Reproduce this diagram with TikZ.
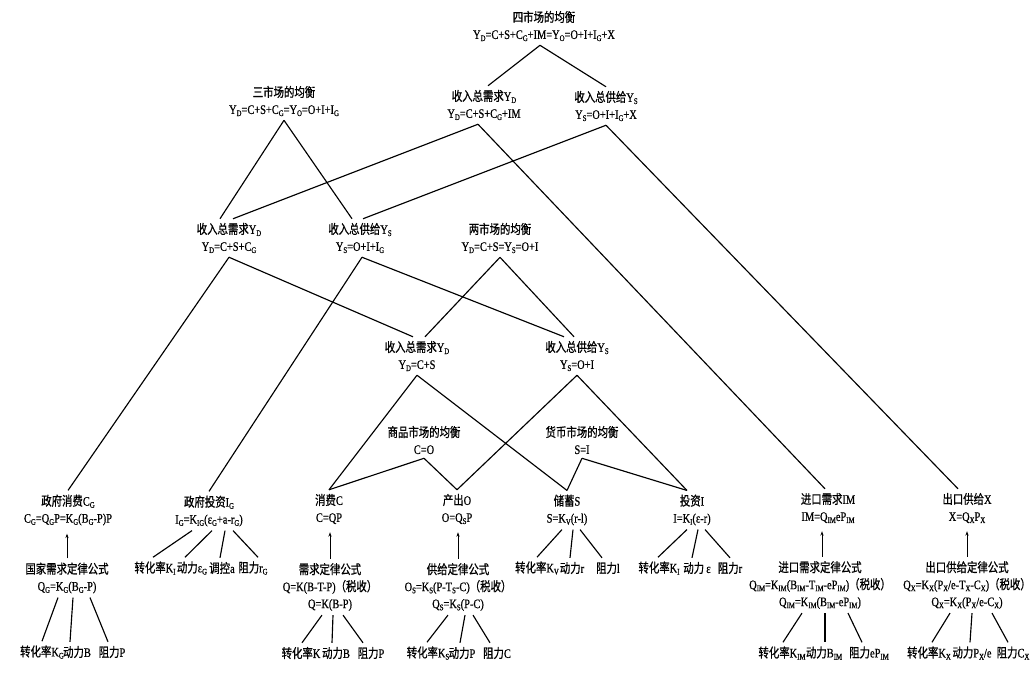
\documentclass[tikz,border=0pt]{standalone}
\usepackage{fontspec}
\setmainfont{Liberation Serif}[FakeStretch=0.8,FakeBold=0.6]
\newfontfamily\cjk{Noto Sans CJK SC}[FakeStretch=0.8,FakeBold=0.8]
\usetikzlibrary{arrows.meta}
\newcommand\sbs[1]{\raisebox{-0.35ex}{\fontsize{8.5}{8.5}\selectfont #1}}
\begin{document}
\begin{tikzpicture}[x=1pt,y=-1pt,
  tx/.style={font=\fontsize{13}{17}\selectfont, align=center, inner xsep=1pt, inner ysep=4pt},
  lf/.style={font=\fontsize{13}{17}\selectfont, inner xsep=1pt, inner ysep=4pt},
  ln/.style={line width=1.15pt},
  up/.style={line width=0.9pt, -{Stealth[length=4.5pt,width=3.2pt]}, shorten >=4pt}]
\fill[white] (0,0) rectangle (1035,675);
\useasboundingbox (0,0) rectangle (1035,675);
% main nodes
\node[tx] (n4) at (544,26) {{\cjk 四市场的均衡}\\Y\sbs{D}=C+S+C\sbs{G}+IM=Y\sbs{O}=O+I+I\sbs{G}+X};
\node[tx] (n3) at (284,101) {{\cjk 三市场的均衡}\\Y\sbs{D}=C+S+C\sbs{G}=Y\sbs{O}=O+I+I\sbs{G}};
\node[tx] (d1) at (484,105) {{\cjk 收入总需求}Y\sbs{D}\\Y\sbs{D}=C+S+C\sbs{G}+IM};
\node[tx] (s1) at (606,106) {{\cjk 收入总供给}Y\sbs{S}\\Y\sbs{S}=O+I+I\sbs{G}+X};
\node[tx] (d2) at (229,238) {{\cjk 收入总需求}Y\sbs{D}\\Y\sbs{D}=C+S+C\sbs{G}};
\node[tx] (s2) at (360,238) {{\cjk 收入总供给}Y\sbs{S}\\Y\sbs{S}=O+I+I\sbs{G}};
\node[tx] (n2) at (500,238) {{\cjk 两市场的均衡}\\Y\sbs{D}=C+S=Y\sbs{S}=O+I};
\node[tx] (d3) at (417,356) {{\cjk 收入总需求}Y\sbs{D}\\Y\sbs{D}=C+S};
\node[tx] (s3) at (577,356) {{\cjk 收入总供给}Y\sbs{S}\\Y\sbs{S}=O+I};
\node[tx] (mg) at (424,440) {{\cjk 商品市场的均衡}\\C=O};
\node[tx] (mm) at (582,440) {{\cjk 货币市场的均衡}\\S=I};
\node[tx] (gc) at (68,510) {{\cjk 政府消费}C\sbs{G}\\C\sbs{G}=Q\sbs{G}P=K\sbs{G}(B\sbs{G}-P)P};
\node[tx] (gi) at (209,511) {{\cjk 政府投资}I\sbs{G}\\I\sbs{G}=K\sbs{IG}(ε\sbs{G}+a-r\sbs{G})};
\node[tx] (cc) at (329,509) {{\cjk 消费}C\\C=QP};
\node[tx] (oo) at (457,509) {{\cjk 产出}O\\O=Q\sbs{S}P};
\node[tx] (ss) at (567,510) {{\cjk 储蓄}S\\S=K\sbs{V}(r-l)};
\node[tx] (ii) at (692,510) {{\cjk 投资}I\\I=K\sbs{I}(ε-r)};
\node[tx] (im) at (828,508) {{\cjk 进口需求}IM\\IM=Q\sbs{IM}eP\sbs{IM}};
\node[tx] (xx) at (967,508) {{\cjk 出口供给}X\\X=Q\sbs{X}P\sbs{X}};
% formula nodes
\node[tx] (gf) at (67,578) {{\cjk 国家需求定律公式}\\Q\sbs{G}=K\sbs{G}(B\sbs{G}-P)};
\node[tx] (cf) at (330,587) {{\cjk 需求定律公式}\\Q=K(B-T-P){\cjk （税收）}\\Q=K(B-P)};
\node[tx] (of) at (458,587) {{\cjk 供给定律公式}\\O\sbs{S}=K\sbs{S}(P-T\sbs{S}-C){\cjk （税收）}\\Q\sbs{S}=K\sbs{S}(P-C)};
\node[tx] (imf) at (820,585) {{\cjk 进口需求定律公式}\\Q\sbs{IM}=K\sbs{IM}(B\sbs{IM}-T\sbs{IM}-eP\sbs{IM}){\cjk （税收）}\\Q\sbs{IM}=K\sbs{IM}(B\sbs{IM}-eP\sbs{IM})};
\node[tx] (xf) at (967,585) {{\cjk 出口供给定律公式}\\Q\sbs{X}=K\sbs{X}(P\sbs{X}/e-T\sbs{X}-C\sbs{X}){\cjk （税收）}\\Q\sbs{X}=K\sbs{X}(P\sbs{X}/e-C\sbs{X})};
% leaves
\node[lf] (g1) at (42,652) {{\cjk 转化率}K\sbs{G}};
\node[lf] (g2) at (77,652) {{\cjk 动力}B};
\node[lf] (g3) at (112,652) {{\cjk 阻力}P};
\node[lf] (i1) at (155,568) {{\cjk 转化率}K\sbs{I}};
\node[lf] (i2) at (192,568) {{\cjk 动力}ε\sbs{G}};
\node[lf] (i3) at (222,568) {{\cjk 调控}a};
\node[lf] (i4) at (253,568) {{\cjk 阻力}r\sbs{G}};
\node[lf] (c1) at (301,653) {{\cjk 转化率}K};
\node[lf] (c2) at (336,653) {{\cjk 动力}B};
\node[lf] (c3) at (371,653) {{\cjk 阻力}P};
\node[lf] (o1) at (428,653) {{\cjk 转化率}K\sbs{S}};
\node[lf] (o2) at (462,653) {{\cjk 动力}P};
\node[lf] (o3) at (497,653) {{\cjk 阻力}C};
\node[lf] (sa) at (537,568) {{\cjk 转化率}K\sbs{V}};
\node[lf] (sb) at (572,568) {{\cjk 动力}r};
\node[lf] (sc) at (608,568) {{\cjk 阻力}l};
\node[lf] (v1) at (659,568) {{\cjk 转化率}K\sbs{I}};
\node[lf] (v2) at (697,568) {{\cjk 动力}\,ε};
\node[lf] (v3) at (730,568) {{\cjk 阻力}r};
\node[lf] (m1) at (782,653) {{\cjk 转化率}K\sbs{IM}};
\node[lf] (m2) at (824,653) {{\cjk 动力}B\sbs{IM}};
\node[lf] (m3) at (869,653) {{\cjk 阻力}eP\sbs{IM}};
\node[lf] (x1) at (929,653) {{\cjk 转化率}K\sbs{X}};
\node[lf] (x2) at (972,653) {{\cjk 动力}P\sbs{X}/e};
\node[lf] (x3) at (1013,653) {{\cjk 阻力}C\sbs{X}};
% tree connectors
\draw[ln] ([xshift=-4pt]n4.south) -- ([xshift=4pt]d1.north);
\draw[ln] ([xshift=-4pt]n4.south) -- (s1.north);
\draw[ln] (n3.south) -- ([xshift=-9pt]d2.north);
\draw[ln] (n3.south) -- ([xshift=-8pt]s2.north);
\draw[ln] ([xshift=-6pt]d1.south) -- ([xshift=4pt]d2.north);
\draw[ln] ([xshift=-6pt]d1.south) -- ([xshift=-3pt]im.north);
\draw[ln] (s1.south) -- ([xshift=3pt]s2.north);
\draw[ln] (s1.south) -- ([xshift=-9pt]xx.north);
\draw[ln] (d2.south) -- (gc.north);
\draw[ln] (d2.south) -- ([xshift=-4pt]d3.north);
\draw[ln] ([xshift=2pt]s2.south) -- (gi.north);
\draw[ln] ([xshift=2pt]s2.south) -- ([xshift=-13pt]s3.north);
\draw[ln] (n2.south) -- ([xshift=8pt]d3.north);
\draw[ln] (n2.south) -- ([xshift=-3pt]s3.north);
\draw[ln] (d3.south) -- (cc.north);
\draw[ln] (d3.south) -- (ss.north);
\draw[ln] (s3.south) -- (oo.north);
\draw[ln] (s3.south) -- ([xshift=-5pt]ii.north);
\draw[ln] (mg.south) -- (cc.north);
\draw[ln] (mg.south) -- (oo.north);
\draw[ln] (mm.south) -- (ss.north);
\draw[ln] (mm.south) -- ([xshift=-5pt]ii.north);
% arrows
\draw[up] (gf.north) -- (gf.north |- gc.south);
\draw[up] (cf.north) -- (cf.north |- cc.south);
\draw[up] (of.north) -- (of.north |- oo.south);
\draw[up] ([xshift=2pt]imf.north) -- ([xshift=2pt]imf.north |- im.south);
\draw[up] (xf.north) -- (xf.north |- xx.south);
% leaf connectors
\draw[ln] ([xshift=-9pt]gf.south) -- (g1.north);
\draw[ln] ([xshift=6pt]gf.south) -- ([xshift=-7pt]g2.north);
\draw[ln] ([xshift=23pt]gf.south) -- ([xshift=-4pt]g3.north);
\draw[ln] ([xshift=-17pt]gi.south) -- ([xshift=-2pt]i1.north);
\draw[ln] ([xshift=3pt]gi.south) -- ([xshift=-7pt]i2.north);
\draw[ln] ([xshift=16pt]gi.south) -- ([xshift=-2pt]i3.north);
\draw[ln] ([xshift=24pt]gi.south) -- ([xshift=5pt]i4.north);
\draw[ln] ([xshift=-8pt]cf.south) -- ([xshift=1pt]c1.north);
\draw[ln] ([xshift=3pt]cf.south) -- ([xshift=-4pt]c2.north);
\draw[ln] ([xshift=13pt]cf.south) -- ([xshift=-8pt]c3.north);
\draw[ln] ([xshift=-10pt]of.south) -- ([xshift=-1pt]o1.north);
\draw[ln] ([xshift=7pt]of.south) -- ([xshift=-2pt]o2.north);
\draw[ln] ([xshift=15pt]of.south) -- ([xshift=-7pt]o3.north);
\draw[ln] ([xshift=-5pt]ss.south) -- (sa.north);
\draw[ln] ([xshift=6pt]ss.south) -- ([xshift=-2pt]sb.north);
\draw[ln] ([xshift=13pt]ss.south) -- ([xshift=-6pt]sc.north);
\draw[ln] ([xshift=-5pt]ii.south) -- ([xshift=-1pt]v1.north);
\draw[ln] ([xshift=6pt]ii.south) -- ([xshift=-5pt]v2.north);
\draw[ln] ([xshift=13pt]ii.south) -- (v3.north);
\draw[ln] ([xshift=-18pt]imf.south) -- ([xshift=1pt]m1.north);
\draw[ln] ([xshift=5pt]imf.south) -- ([xshift=1pt]m2.north);
\draw[ln] ([xshift=28pt]imf.south) -- ([xshift=-7pt]m3.north);
\draw[ln] ([xshift=-17pt]xf.south) -- ([xshift=3pt]x1.north);
\draw[ln] ([xshift=5pt]xf.south) -- ([xshift=-2pt]x2.north);
\draw[ln] ([xshift=25pt]xf.south) -- ([xshift=-5pt]x3.north);
\end{tikzpicture}
\end{document}
